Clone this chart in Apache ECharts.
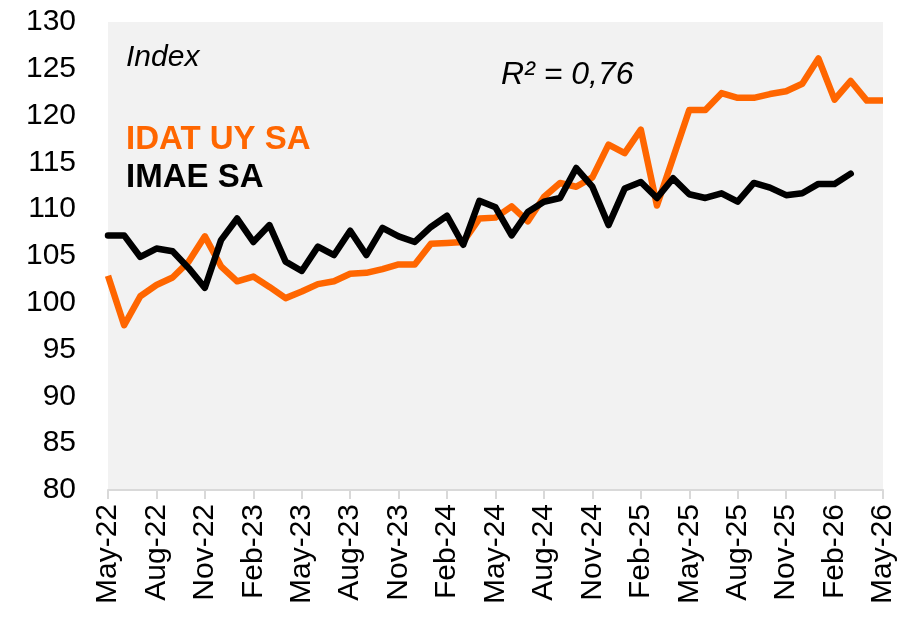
<!DOCTYPE html>
<html>
<head>
<meta charset="utf-8">
<title>IDAT UY SA vs IMAE SA</title>
<script src="https://cdn.jsdelivr.net/npm/echarts@6/dist/echarts.min.js"></script>
<style>
  html, body { margin: 0; padding: 0; background: #fff; }
  #chart { width: 910px; height: 622px; }
</style>
</head>
<body>
<div id="chart"></div>
<script>
const months = [
  'May-22', 'Jun-22', 'Jul-22', 'Aug-22', 'Sep-22', 'Oct-22', 'Nov-22', 'Dec-22',
  'Jan-23', 'Feb-23', 'Mar-23', 'Apr-23', 'May-23', 'Jun-23', 'Jul-23', 'Aug-23',
  'Sep-23', 'Oct-23', 'Nov-23', 'Dec-23', 'Jan-24', 'Feb-24', 'Mar-24', 'Apr-24',
  'May-24', 'Jun-24', 'Jul-24', 'Aug-24', 'Sep-24', 'Oct-24', 'Nov-24', 'Dec-24',
  'Jan-25', 'Feb-25', 'Mar-25', 'Apr-25', 'May-25', 'Jun-25', 'Jul-25', 'Aug-25',
  'Sep-25', 'Oct-25', 'Nov-25', 'Dec-25', 'Jan-26', 'Feb-26', 'Mar-26', 'Apr-26',
  'May-26'
]

const idatUy = [
  102.9, 97.6, 100.7, 101.9, 102.7, 104.4, 107.1, 103.9,
  102.3, 102.8, 101.7, 100.5, 101.2, 102.0, 102.3, 103.1,
  103.2, 103.6, 104.1, 104.1, 106.3, 106.4, 106.5, 109.0,
  109.1, 110.3, 108.7, 111.3, 112.8, 112.4, 113.4, 116.9,
  116.0, 118.5, 110.4, 115.5, 120.6, 120.6, 122.4, 121.9,
  121.9, 122.3, 122.6, 123.4, 126.1, 121.7, 123.7, 121.6,
  121.6
]

const imae = [
  107.2, 107.2, 104.9, 105.8, 105.5, 103.7, 101.6, 106.7,
  109.0, 106.5, 108.3, 104.4, 103.4, 106.0, 105.1, 107.7,
  105.1, 108.0, 107.1, 106.5, 108.1, 109.3, 106.2, 110.9,
  110.2, 107.2, 109.7, 110.8, 111.2, 114.4, 112.4, 108.3,
  112.2, 112.9, 111.2, 113.3, 111.6, 111.2, 111.7, 110.8,
  112.8, 112.3, 111.5, 111.7, 112.7, 112.7, 113.8, null,
  null
]

const yMin = 80
const yMax = 130
const yStep = 5

const ORANGE = '#ff6600'
const FONT = '"Liberation Sans", Arial, sans-serif'

const chart = echarts.init(document.getElementById('chart'))

const option = {
  backgroundColor: '#ffffff',
  animation: false,
  grid: {
    left: 108,
    right: 27,
    top: 22,
    bottom: 132,
    show: true,
    backgroundColor: '#f2f2f2',
    borderWidth: 0
  },
  xAxis: {
    type: 'category',
    boundaryGap: false,
    data: months,
    axisLine: { lineStyle: { color: '#d9d9d9', width: 2 } },
    axisTick: { interval: 2, length: 9, lineStyle: { color: '#d9d9d9', width: 2 } },
    axisLabel: {
      interval: 2,
      rotate: 90,
      margin: 14,
      color: '#000',
      fontSize: 30,
      fontFamily: FONT
    },
    splitLine: { show: false }
  },
  yAxis: {
    type: 'value',
    min: yMin,
    max: yMax,
    interval: yStep,
    axisLine: { show: false },
    axisTick: { show: false },
    splitLine: { show: false },
    axisLabel: {
      margin: 32,
      color: '#000',
      fontSize: 30,
      fontFamily: FONT
    }
  },
  series: [
    {
      name: 'IDAT UY SA',
      type: 'line',
      data: idatUy,
      symbol: 'none',
      lineStyle: { color: ORANGE, width: 6.5, join: 'round' },
      itemStyle: { color: ORANGE }
    },
    {
      name: 'IMAE SA',
      type: 'line',
      data: imae,
      symbol: 'none',
      connectNulls: false,
      lineStyle: { color: '#000', width: 6.5, join: 'round', cap: 'round' },
      itemStyle: { color: '#000' }
    }
  ],
  graphic: [
    {
      type: 'text',
      left: 126,
      top: 43,
      style: { text: 'Index', font: 'italic 30px ' + FONT, fill: '#000' }
    },
    {
      type: 'text',
      left: 501,
      top: 59,
      style: { text: 'R² = 0,76', font: 'italic 32px ' + FONT, fill: '#000' }
    },
    {
      type: 'text',
      left: 126,
      top: 123,
      style: { text: 'IDAT UY SA', font: 'bold 33px ' + FONT, fill: ORANGE }
    },
    {
      type: 'text',
      left: 126,
      top: 161,
      style: { text: 'IMAE SA', font: 'bold 33px ' + FONT, fill: '#000' }
    }
  ]
}

chart.setOption(option)

window.addEventListener('resize', () => chart.resize())
</script>
</body>
</html>
